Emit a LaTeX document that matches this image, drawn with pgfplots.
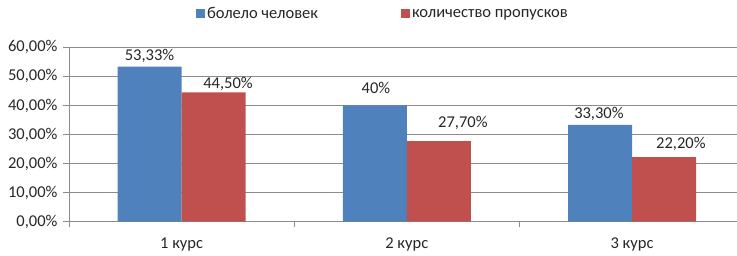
\documentclass[border=0pt]{standalone}
\usepackage{fontspec}
\setmainfont{Carlito}
\usepackage{pgfplots}
\pgfplotsset{compat=1.18}
\definecolor{cblue}{HTML}{4F81BD}
\definecolor{cred}{HTML}{C0504D}
\definecolor{gridc}{HTML}{8C8C8C}
\definecolor{txt}{HTML}{262626}
\begin{document}
\begin{tikzpicture}
\begin{axis}[
  at={(0,0)}, anchor=south west,
  scale only axis, width=668pt, height=174.4pt,
  xmin=-0.5, xmax=2.466, ymin=0, ymax=60,
  axis x line*=bottom, axis y line*=left,
  axis line style={gridc,-, line width=0.6pt},
  tick align=outside, major tick length=5.5pt,
  tick style={gridc, line width=0.6pt},
  ytick={0,10,20,30,40,50,60},
  yticklabels={{0,00\%},{10,00\%},{20,00\%},{30,00\%},{40,00\%},{50,00\%},{60,00\%}},
  ymajorgrids, grid style={gridc, line width=0.6pt},
  xtick={-0.5,0.5,1.5},
  xticklabels={},
  extra x ticks={0,1,2},
  extra x tick labels={1 курс,2 курс,3 курс},
  extra x tick style={major tick length=0pt, xticklabel style={yshift=-13pt}},
  tick label style={font=\fontsize{16.5}{19}\selectfont, text=txt},
  yticklabel style={xshift=-2.5pt},
  legend style={at={(axis description cs:0.19,1.191)}, anchor=west, draw=none, fill=none,
    font=\fontsize{16.5}{19}\selectfont, text=txt, legend columns=2,
    inner sep=0pt, nodes={inner sep=2pt},
    /tikz/every even column/.append style={column sep=81pt}},
  legend image code/.code={\fill[#1] (0pt,-4.5pt) rectangle (9pt,4.5pt);},
  clip=false,
]
\addplot[ybar, bar width=64pt, bar shift=-32pt, fill=cblue, draw=none] coordinates {(0,53.33) (1,40) (2,33.3)};
\addlegendentry{болело человек}
\addplot[ybar, bar width=64pt, bar shift=32pt, fill=cred, draw=none] coordinates {(0,44.5) (1,27.7) (2,22.2)};
\addlegendentry{количество пропусков}
\addplot[forget plot, only marks, mark=*, mark size=0pt, mark options={draw=none,fill=none},
  point meta=explicit symbolic, nodes near coords, nodes near coords align={center},
  every node near coord/.append style={font=\fontsize{16.5}{19}\selectfont, text=txt, anchor=center}]
  coordinates {
  (-0.1425,57.0) [53,33\%]
  (0.206,47.5) [44,50\%]
  (0.863,46.0) [40\%]
  (1.249,33.98) [27,70\%]
  (1.853,37.05) [33,30\%]
  (2.217,26.7) [22,20\%]
  };
\end{axis}
\pgfresetboundingbox
\path[use as bounding box] (-69pt,-34.3pt) rectangle (668pt,221.7pt);
\end{tikzpicture}
\end{document}
